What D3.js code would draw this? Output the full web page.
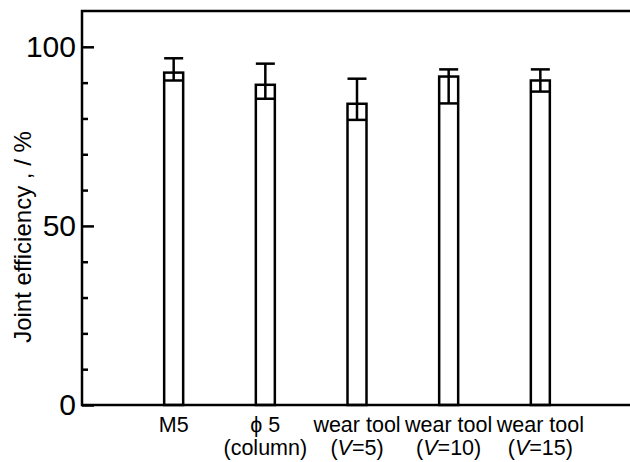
<!DOCTYPE html>
<html>
<head>
<meta charset="utf-8">
<script src="https://cdn.jsdelivr.net/npm/d3@7"></script>
<style>
  body { margin: 0; background: #fff; }
  svg { font-family: "Liberation Sans", Arial, sans-serif; }
</style>
</head>
<body>
<div id="chart"></div>
<script>
// Categories (two-line labels) and values
const labelLine1 = ["M5", "\u03D5 5", "wear tool", "wear tool", "wear tool"];
const labelLine2 = ["", "(column)", "V=5", "V=10", "V=15"];
const meanValues = [92.8, 89.4, 84.1, 91.7, 90.6];
const upperValues = [96.8, 95.3, 91.1, 93.7, 93.7];
const lowerValues = [90.6, 85.5, 79.6, 84.2, 87.5];
const majorTicks = [0, 50, 100];
const minorTicks = [10, 20, 30, 40, 60, 70, 80, 90];

const width = 630, height = 462;
const plotLeft = 82, plotRight = 632, plotTop = 11, plotBottom = 405;

const svg = d3.select("#chart").append("svg")
    .attr("width", width)
    .attr("height", height);

const x = d3.scaleLinear().domain([0, 6]).range([plotLeft, plotRight]);
const y = d3.scaleLinear().domain([0, 110]).range([plotBottom, plotTop]);

const data = meanValues.map((v, i) => ({
    i: i + 1, mean: v, hi: upperValues[i], lo: lowerValues[i],
    l1: labelLine1[i], l2: labelLine2[i]
}));

const barW = 19;

// bars
svg.selectAll("rect.bar")
    .data(data)
    .enter().append("rect")
    .attr("class", "bar")
    .attr("x", d => x(d.i) - barW / 2)
    .attr("y", d => y(d.mean))
    .attr("width", barW)
    .attr("height", d => y(0) - y(d.mean))
    .attr("fill", "#fff")
    .attr("stroke", "#000")
    .attr("stroke-width", 2.5);

// error bars
const err = svg.selectAll("g.err")
    .data(data)
    .enter().append("g")
    .attr("class", "err")
    .attr("stroke", "#000")
    .attr("stroke-width", 2.5);

err.append("line")
    .attr("x1", d => x(d.i)).attr("x2", d => x(d.i))
    .attr("y1", d => y(d.lo)).attr("y2", d => y(d.hi));
err.append("line")
    .attr("x1", d => x(d.i) - barW / 2).attr("x2", d => x(d.i) + barW / 2)
    .attr("y1", d => y(d.hi)).attr("y2", d => y(d.hi));
err.append("line")
    .attr("x1", d => x(d.i) - barW / 2).attr("x2", d => x(d.i) + barW / 2)
    .attr("y1", d => y(d.lo)).attr("y2", d => y(d.lo));

// frame
svg.append("path")
    .attr("d", `M${plotRight},${plotTop}H${plotLeft}V${plotBottom}H${plotRight}`)
    .attr("fill", "none")
    .attr("stroke", "#000")
    .attr("stroke-width", 2.5);

// y axis: major ticks with labels, minor ticks without
const yMajor = svg.append("g")
    .attr("transform", `translate(${plotLeft},0)`)
    .call(d3.axisLeft(y).tickValues(majorTicks).tickSize(-12).tickPadding(6));
yMajor.select(".domain").remove();
yMajor.selectAll(".tick line").attr("stroke-width", 2.5);
yMajor.selectAll(".tick text")
    .attr("font-size", 30)
    .attr("font-family", "Liberation Sans, Arial, sans-serif")
    .attr("fill", "#000");

const yMinor = svg.append("g")
    .attr("transform", `translate(${plotLeft},0)`)
    .call(d3.axisLeft(y).tickValues(minorTicks).tickSize(-6).tickFormat(""));
yMinor.select(".domain").remove();
yMinor.selectAll(".tick line").attr("stroke-width", 2.5);

// x labels
const xl = svg.selectAll("text.xl")
    .data(data)
    .enter().append("text")
    .attr("class", "xl")
    .attr("text-anchor", "middle")
    .attr("font-size", 21.5)
    .attr("fill", "#000");

xl.append("tspan")
    .attr("x", d => x(d.i))
    .attr("y", 432)
    .text(d => d.l1);

xl.each(function(d) {
    if (!d.l2) return;
    const t = d3.select(this).append("tspan")
        .attr("x", x(d.i))
        .attr("y", 455);
    if (d.l2.startsWith("V")) {
        t.text("(");
        d3.select(this).append("tspan").attr("font-style", "italic").text("V");
        d3.select(this).append("tspan").text(d.l2.slice(1) + ")");
    } else {
        t.text(d.l2);
    }
});

// y title
svg.append("text")
    .attr("transform", `translate(31,237) rotate(-90)`)
    .attr("text-anchor", "middle")
    .attr("font-size", 24)
    .attr("fill", "#000")
    .text("Joint efficiency , / %");
</script>
</body>
</html>
